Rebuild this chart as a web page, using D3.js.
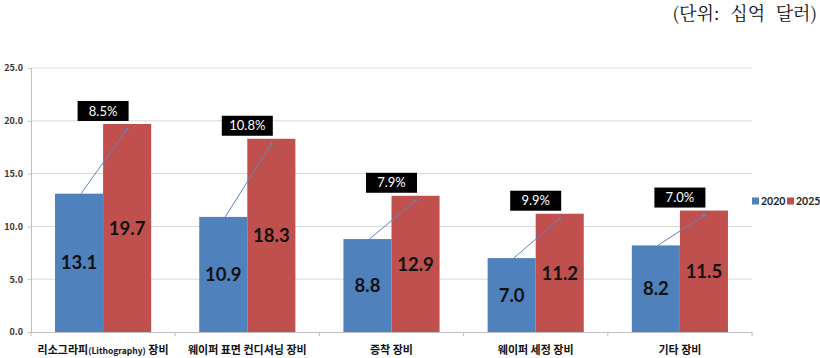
<!DOCTYPE html>
<html><head><meta charset="utf-8">
<script src="https://cdn.jsdelivr.net/npm/d3@7"></script>
<style>
body{margin:0;background:#fff;}
svg{display:block;}
</style></head>
<body>
<svg id="chart" width="820" height="358"></svg>
<script>
const categories = ["리소그라피(Lithography) 장비", "웨이퍼 표면 컨디셔닝 장비", "증착 장비", "웨이퍼 세정 장비", "기타 장비"];
const seriesNames = ["2020", "2025"];
const values2020 = [13.1, 10.9, 8.8, 7.0, 8.2];
const values2025 = [19.7, 18.3, 12.9, 11.2, 11.5];
const growthLabels = ["8.5%", "10.8%", "7.9%", "9.9%", "7.0%"];
const yTicks = [0, 5, 10, 15, 20, 25];
const unitLabel = "(단위: 십억 달러)";

(function(){
const colors = {"2020": "#4F81BD", "2025": "#C0504D"};
const svg = d3.select("#chart");
const pLeft = 31, pRight = 752, pTop = 68, pBottom = 332;

const x = d3.scaleBand().domain(categories).range([pLeft, pRight]).padding(0);
const xs = d3.scaleBand().domain(seriesNames).range([x.bandwidth()/6, x.bandwidth()*5/6]).padding(0);
const y = d3.scaleLinear().domain([0, 25]).range([pBottom, pTop]);

const font = "'Noto Sans CJK KR', 'Noto Sans', sans-serif";

svg.append("g").selectAll("line").data(yTicks.filter(d => d > 0)).join("line")
  .attr("x1", pLeft).attr("x2", pRight)
  .attr("y1", d => y(d)).attr("y2", d => y(d))
  .attr("stroke", "#d9d9d9").attr("stroke-width", 1);

const yAxis = d3.axisLeft(y).tickValues(yTicks).tickFormat(d3.format(".1f")).tickSize(3).tickPadding(5);
const gy = svg.append("g").attr("transform", `translate(${pLeft},0)`).call(yAxis);
gy.select(".domain").attr("stroke", "#bfbfbf");
gy.selectAll(".tick line").attr("stroke", "#bfbfbf");
gy.selectAll("text").attr("font-family", font).attr("font-size", 9).attr("font-weight", "bold").attr("fill", "#333");

const xAxis = d3.axisBottom(x).tickSize(0).tickFormat("");
const gx = svg.append("g").attr("transform", `translate(0,${pBottom})`).call(xAxis);
gx.select(".domain").attr("stroke", "#bfbfbf");
gx.selectAll(".tick").remove();
const bounds = categories.map(c => x(c)).concat([pRight]);
svg.append("g").selectAll("line").data(bounds).join("line")
  .attr("x1", d => d).attr("x2", d => d)
  .attr("y1", pBottom).attr("y2", pBottom + 4)
  .attr("stroke", "#bfbfbf");

const catG = svg.append("g");
categories.forEach((c, i) => {
  const t = catG.append("text")
    .attr("x", x(c) + x.bandwidth()/2).attr("y", 354)
    .attr("text-anchor", "middle")
    .attr("font-family", font).attr("font-weight", "bold").attr("font-size", 11).attr("fill", "#111");
  const m = c.match(/^(.*?)(\(.*?\))(.*)$/);
  if (m) {
    t.append("tspan").text(m[1]);
    t.append("tspan").attr("font-size", 8.5).text(m[2]);
    t.append("tspan").text(m[3]);
  } else t.text(c);
});

const rows = categories.map((c, i) => ({cat: c, v: {"2020": values2020[i], "2025": values2025[i]}, g: growthLabels[i]}));

const groups = svg.append("g").selectAll("g").data(rows).join("g")
  .attr("transform", d => `translate(${x(d.cat)},0)`);

groups.selectAll("rect").data(d => seriesNames.map(s => ({s, v: d.v[s]}))).join("rect")
  .attr("x", d => xs(d.s)).attr("width", xs.bandwidth())
  .attr("y", d => y(d.v)).attr("height", d => y(0) - y(d.v))
  .attr("fill", d => colors[d.s]);

groups.selectAll("text.val").data(d => seriesNames.map(s => ({s, v: d.v[s]}))).join("text")
  .attr("class", "val")
  .attr("x", d => xs(d.s) + xs.bandwidth()/2)
  .attr("y", d => (y(d.v) + y(0))/2)
  .attr("dy", "0.36em")
  .attr("text-anchor", "middle")
  .attr("font-family", "Lato, 'Noto Sans', sans-serif").attr("font-weight", "bold").attr("font-size", 18.5)
  .attr("fill", "#111")
  .text(d => d.v.toFixed(1));

groups.append("line")
  .attr("x1", d => xs("2020") + xs.bandwidth()/2 + 2).attr("y1", d => y(d.v["2020"]))
  .attr("x2", d => xs("2025") + xs.bandwidth()/2).attr("y2", d => y(d.v["2025"]) + 5)
  .attr("stroke", "#5b86c0").attr("stroke-width", 1);
groups.append("circle")
  .attr("cx", d => xs("2025") + xs.bandwidth()/2).attr("cy", d => y(d.v["2025"]) + 5)
  .attr("r", 1.5).attr("fill", "#5b86c0");

const bw = 51, bh = 20;
const cx = x.bandwidth()/2;
groups.append("rect")
  .attr("x", cx - bw/2).attr("y", d => y(d.v["2025"]) - 3 - bh)
  .attr("width", bw).attr("height", bh).attr("fill", "#000");
groups.append("text")
  .attr("x", cx).attr("y", d => y(d.v["2025"]) - 3 - bh/2)
  .attr("dy", "0.36em").attr("text-anchor", "middle")
  .attr("font-family", "Lato, 'Noto Sans', sans-serif").attr("font-size", 13).attr("fill", "#fff")
  .text(d => d.g);

const lg = svg.append("g").attr("transform", "translate(752,201)");
const legX = [0, 35];
seriesNames.forEach((s, i) => {
  lg.append("rect").attr("x", legX[i]).attr("y", -3.5).attr("width", 7).attr("height", 7).attr("fill", colors[s]);
  lg.append("text").attr("x", legX[i] + 9).attr("y", 0).attr("dy", "0.36em")
    .attr("font-family", "Lato, 'Noto Sans', sans-serif").attr("font-weight", "bold").attr("font-size", 10.5).attr("fill", "#222")
    .text(s);
});

svg.append("text").attr("x", 817).attr("y", 20).attr("text-anchor", "end")
  .attr("font-family", "'Noto Serif CJK KR', 'Noto Sans CJK KR', serif").attr("font-size", 18).attr("fill", "#111")
  .attr("word-spacing", 6)
  .text(unitLabel);
})();
</script>
</body></html>
